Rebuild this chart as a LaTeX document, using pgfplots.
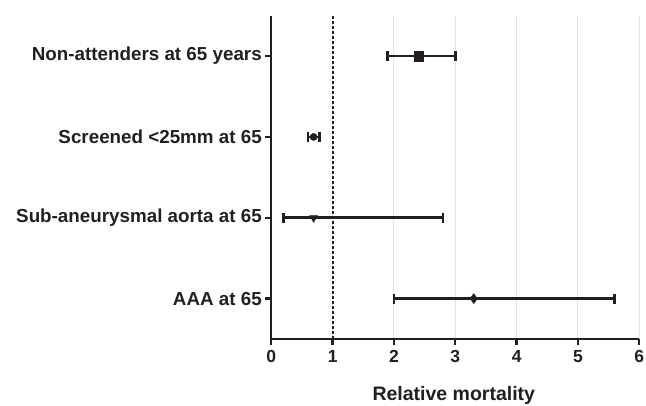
\documentclass[border=0pt]{standalone}
\usepackage{pgfplots}
\pgfplotsset{compat=1.18}
\usepackage{fontspec}
\setmainfont{Liberation Sans}
\definecolor{ink}{RGB}{35,31,32}
\definecolor{gridc}{RGB}{228,228,228}
\begin{document}
\begin{tikzpicture}
\begin{axis}[
  name=ax, anchor=south west, at={(0,0)},
  scale only axis, width=368pt, height=323.3pt,
  xmin=0, xmax=6, ymin=0.5, ymax=4.5,
  axis x line*=bottom, axis y line*=left,
  axis line style={line width=2.3pt, color=ink, -},
  xtick={0,1,2,3,4,5,6},
  ytick={1,2,3,4},
  yticklabels={AAA at 65, Sub-aneurysmal aorta at 65, Screened <25mm at 65, Non-attenders at 65 years},
  tick align=outside, major tick length=6pt,
  tick style={line width=2.3pt, color=ink},
  xmajorgrids, major x grid style={gridc, line width=1pt},
  /pgf/number format/assume math mode=true,
  xticklabel style={font=\fontsize{17.5}{20}\selectfont\bfseries, text=ink, yshift=-2pt},
  yticklabel style={font=\fontsize{18.8}{20}\selectfont\bfseries, text=ink},
  xlabel={Relative mortality},
  xlabel style={font=\fontsize{19.5}{22}\selectfont\bfseries, text=ink, at={(rel axis cs:0.496,0)}, anchor=base, yshift=-61pt},
  clip=false,
  error bars/x dir=both, error bars/x explicit,
  error bars/error bar style={line width=2.6pt, color=ink},
  error bars/error mark=|,
  error bars/error mark options={line width=2.8pt, mark size=5pt, color=ink},
]
\addplot[ink, line width=2.2pt, dash pattern=on 3pt off 2pt, forget plot, error bars/x dir=none] coordinates {(1,0.5) (1,4.5)};
\addplot[only marks, mark=square*, mark size=4.6pt, color=ink]
  coordinates {(2.40,4) +- (0.6,0) -= (0.5,0)};
\addplot[only marks, mark=*, mark size=3.6pt, color=ink]
  coordinates {(0.69,3) +- (0.10,0) -= (0.09,0)};
\addplot[only marks, mark=triangle*, mark options={rotate=180}, mark size=4.6pt, color=ink]
  coordinates {(0.69,2) +- (2.11,0) -= (0.49,0)};
\addplot[only marks, mark=diamond*, mark size=5pt, color=ink]
  coordinates {(3.30,1) +- (2.30,0) -= (1.30,0)};
\end{axis}
\pgfresetboundingbox
\path[use as bounding box] (-271.3pt,-66pt) rectangle (374.7pt,339pt);
\end{tikzpicture}
\end{document}
